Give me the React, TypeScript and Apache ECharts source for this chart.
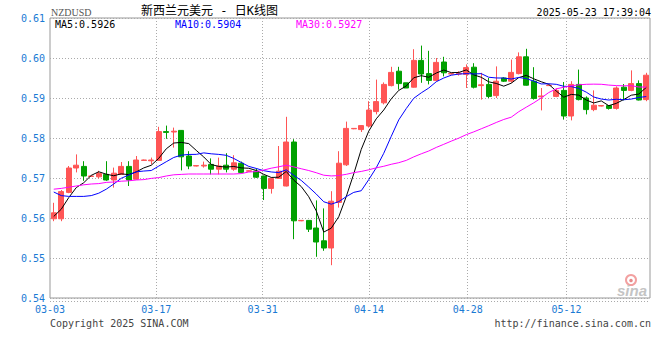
import React, { useEffect, useRef } from "react";
import * as echarts from "echarts";

// ---- data ----
const DATES = [
  "03-03","03-04","03-05","03-06","03-07","03-08","03-09","03-10","03-11","03-12",
  "03-13","03-14","03-15","03-16","03-17","03-18","03-19","03-20","03-21","03-22",
  "03-23","03-24","03-25","03-26","03-27","03-28","03-29","03-30","03-31","04-01",
  "04-02","04-03","04-04","04-05","04-06","04-07","04-08","04-09","04-10","04-11",
  "04-12","04-13","04-14","04-15","04-16","04-17","04-18","04-20","04-21","04-22",
  "04-23","04-24","04-25","04-26","04-27","04-28","04-29","04-30","05-01","05-02",
  "05-03","05-05","05-06","05-07","05-08","05-09","05-10","05-11","05-12","05-13",
  "05-14","05-15","05-16","05-17","05-18","05-19","05-20","05-21","05-22","05-23"
];
const OPEN = [
  0.5598,0.5598,0.5664,0.5725,0.5729,0.5704,0.5703,0.5709,0.5695,0.5709,
  0.5729,0.5697,0.5744,0.5743,0.5744,0.5816,0.5815,0.5819,0.5755,0.5730,
  0.5730,0.5734,0.5722,0.5732,0.5722,0.5737,0.5717,0.5717,0.5705,0.5674,
  0.5699,0.5680,0.5790,0.5593,0.5594,0.5575,0.5543,0.5525,0.5639,0.5733,
  0.5823,0.5821,0.5830,0.5866,0.5888,0.5931,0.5967,0.5938,0.5927,0.5994,
  0.5961,0.5944,0.5990,0.5960,0.5960,0.5959,0.5977,0.5931,0.5934,0.5906,
  0.5950,0.5942,0.5961,0.6003,0.5942,0.5903,0.5931,0.5904,0.5919,0.5855,
  0.5934,0.5900,0.5871,0.5880,0.5881,0.5874,0.5927,0.5919,0.5936,0.5896
];
const CLOSE = [
  0.5613,0.5666,0.5725,0.5732,0.5705,0.5705,0.5711,0.5695,0.5712,0.5729,
  0.5695,0.5745,0.5745,0.5745,0.5816,0.5814,0.5817,0.5753,0.5730,0.5731,
  0.5732,0.5722,0.5730,0.5722,0.5738,0.5714,0.5718,0.5702,0.5674,0.5699,
  0.5717,0.5790,0.5593,0.5594,0.5572,0.5540,0.5525,0.5642,0.5737,0.5824,
  0.5824,0.5831,0.5870,0.5891,0.5934,0.5964,0.5936,0.5925,0.5994,0.5960,
  0.5944,0.5989,0.5963,0.5961,0.5962,0.5976,0.5927,0.5933,0.5904,0.5942,
  0.5942,0.5964,0.6003,0.5932,0.5899,0.5905,0.5932,0.5919,0.5855,0.5934,
  0.5896,0.5871,0.5882,0.5881,0.5874,0.5925,0.5919,0.5936,0.5895,0.5957
];
const LOW = [
  0.5592,0.5592,0.5662,0.5714,0.5693,0.5703,0.5699,0.5693,0.5676,0.5708,
  0.5680,0.5696,0.5743,0.5734,0.5743,0.5798,0.5776,0.5719,0.5722,0.5729,
  0.5726,0.5709,0.5709,0.5714,0.5718,0.5712,0.5716,0.5700,0.5645,0.5661,
  0.5698,0.5679,0.5547,0.5592,0.5565,0.5503,0.5518,0.5482,0.5626,0.5730,
  0.5822,0.5815,0.5826,0.5859,0.5884,0.5929,0.5921,0.5925,0.5926,0.5938,
  0.5934,0.5942,0.5954,0.5959,0.5956,0.5925,0.5924,0.5896,0.5900,0.5900,
  0.5940,0.5938,0.5959,0.5931,0.5896,0.5869,0.5930,0.5902,0.5846,0.5844,
  0.5894,0.5859,0.5867,0.5879,0.5871,0.5871,0.5894,0.5917,0.5894,0.5892
];
const HIGH = [
  0.5638,0.5670,0.5730,0.5759,0.5742,0.5706,0.5718,0.5742,0.5726,0.5740,
  0.5742,0.5755,0.5746,0.5751,0.5828,0.5831,0.5826,0.5820,0.5767,0.5732,
  0.5741,0.5749,0.5751,0.5762,0.5757,0.5741,0.5719,0.5724,0.5706,0.5701,
  0.5780,0.5853,0.5797,0.5595,0.5595,0.5644,0.5624,0.5667,0.5767,0.5841,
  0.5825,0.5832,0.5892,0.5946,0.5939,0.5978,0.5978,0.5938,0.6022,0.6031,
  0.6018,0.6000,0.6003,0.5962,0.5967,0.5984,0.5987,0.5963,0.5950,0.5979,
  0.5952,0.5996,0.6014,0.6023,0.5977,0.5925,0.5933,0.5924,0.5940,0.5942,
  0.5971,0.5904,0.5919,0.5882,0.5882,0.5929,0.5935,0.5969,0.5944,0.5963
];
// moving-average values at the start of the window (they depend on earlier, unseen days)
const MA5_HEAD = [0.5604, 0.5622, 0.5651, 0.5676];
const MA10_HEAD = [0.5665, 0.5656, 0.5654, 0.5654, 0.5654, 0.5656, 0.5662, 0.5672, 0.5685];
const MA30_HEAD = [
  0.5672,0.5674,0.5677,0.5680,0.5683,0.5685,0.5686,0.5689,0.5690,0.5692,
  0.5693,0.5695,0.5696,0.5699,0.5701,0.5705,0.5708,0.5709,0.5710,0.5710,
  0.5710,0.5710,0.5710,0.5710,0.5710,0.5711,0.5715,0.5716,0.5720
];
const LABEL_DATES = ["03-03", "03-17", "03-31", "04-14", "04-28", "05-12"];
const Y_MIN = 0.54;
const Y_MAX = 0.61;
const Y_STEP = 0.01;

const MONO = "'DejaVu Sans Mono', 'Liberation Mono', monospace";
const BLUE = "#1a7ad4";
const UP = "#ff5555";
const DOWN = "#00a000";

function movingAverage(n: number, head: number[]): number[] {
  return CLOSE.map((_, i) => {
    if (i < n - 1) return head[i];
    let s = 0;
    for (let k = i - n + 1; k <= i; k++) s += CLOSE[k];
    return +(s / n).toFixed(6);
  });
}

export default function App() {
  const ref = useRef<HTMLDivElement>(null);

  useEffect(() => {
    if (!ref.current) return;
    const chart = echarts.init(ref.current, undefined, { renderer: "svg" });
    const ma5 = movingAverage(5, MA5_HEAD);
    const ma10 = movingAverage(10, MA10_HEAD);
    const ma30 = movingAverage(30, MA30_HEAD);
    const last = DATES.length - 1;
    const kData = DATES.map((_, i) => [OPEN[i], CLOSE[i], LOW[i], HIGH[i]]);
    const isLabel = (i: number) => LABEL_DATES.indexOf(DATES[i]) >= 0;

    const txt = (x: number, y: number, text: string, fill: string, font: string, align = "left") => ({
      type: "text",
      x,
      y,
      silent: true,
      style: {
        text,
        fill,
        font,
        textAlign: align,
        textVerticalAlign: "middle",
        align,
        verticalAlign: "middle",
      },
    });

    const option: any = {
      animation: false,
      backgroundColor: "#ffffff",
      grid: {
        left: 50,
        right: 10,
        top: 18,
        bottom: 62,
        show: true,
        borderColor: "#999999",
        borderWidth: 1,
        backgroundColor: "transparent",
      },
      xAxis: [
        {
          type: "category",
          data: DATES,
          boundaryGap: true,
          show: false,
        },
        {
          type: "category",
          data: DATES,
          boundaryGap: false,
          position: "bottom",
          axisLine: { show: false },
          axisTick: { show: false },
          axisLabel: {
            interval: (i: number) => isLabel(i),
            color: BLUE,
            fontFamily: MONO,
            fontSize: 10,
            margin: 6,
          },
          splitLine: {
            show: true,
            interval: (i: number) => isLabel(i) && i > 0,
            lineStyle: { color: "#aaaaaa", type: [1, 2], width: 1 },
          },
        },
      ],
      yAxis: {
        type: "value",
        min: Y_MIN,
        max: Y_MAX,
        interval: Y_STEP,
        axisLine: { show: false },
        axisTick: { show: false },
        axisLabel: {
          color: BLUE,
          fontFamily: MONO,
          fontSize: 10,
          margin: 5,
          formatter: (v: number) => v.toFixed(2),
        },
        splitLine: {
          show: true,
          lineStyle: { color: "#aaaaaa", type: [1, 2], width: 1 },
        },
      },
      series: [
        {
          type: "candlestick",
          xAxisIndex: 0,
          data: kData,
          barWidth: 5.5,
          itemStyle: {
            color: UP,
            color0: DOWN,
            borderColor: UP,
            borderColor0: DOWN,
            borderWidth: 1,
          },
        },
        {
          type: "line",
          xAxisIndex: 0,
          data: ma5,
          symbol: "none",
          lineStyle: { color: "#000000", width: 1 },
          itemStyle: { color: "#000000" },
          silent: true,
        },
        {
          type: "line",
          xAxisIndex: 0,
          data: ma10,
          symbol: "none",
          lineStyle: { color: "#0000ff", width: 1 },
          itemStyle: { color: "#0000ff" },
          silent: true,
        },
        {
          type: "line",
          xAxisIndex: 0,
          data: ma30,
          symbol: "none",
          lineStyle: { color: "#ff00ff", width: 1 },
          itemStyle: { color: "#ff00ff" },
          silent: true,
        },
      ],
      graphic: [
        txt(51, 12, "NZDUSD", "#555555", "10px 'Liberation Serif', serif"),
        txt(141, 11, "新西兰元美元 - 日K线图", "#000000", `12px ${MONO}, 'Noto Sans CJK SC'`),
        txt(651, 12, "2025-05-23 17:39:04", "#000000", `10px ${MONO}`, "right"),
        txt(55, 24, "MA5:" + ma5[last].toFixed(4), "#000000", `10px ${MONO}`),
        txt(175, 24, "MA10:" + ma10[last].toFixed(4), "#0000ff", `10px ${MONO}`),
        txt(296, 24, "MA30:" + ma30[last].toFixed(4), "#ff00ff", `10px ${MONO}`),
        {
          type: "line",
          silent: true,
          shape: { x1: 50, y1: 301.5, x2: 650, y2: 301.5 },
          style: { stroke: "#aaaaaa", lineWidth: 1, lineDash: [1, 2] },
        },
        txt(50, 323, "Copyright 2025 SINA.COM", "#444444", `10px ${MONO}`),
        txt(651, 323, "http://finance.sina.com.cn", "#444444", `10px ${MONO}`, "right"),
        {
          type: "circle",
          silent: true,
          shape: { cx: 631, cy: 280, r: 5 },
          style: { fill: "none", stroke: "#f2a0a0", lineWidth: 2 },
        },
        {
          type: "circle",
          silent: true,
          shape: { cx: 631, cy: 280.5, r: 1.8 },
          style: { fill: "#e88a8a" },
        },
        txt(632, 290, "sina", "#c4c4c4", "italic bold 15px 'Liberation Sans', sans-serif", "center"),
      ],
    };

    chart.setOption(option);
    return () => chart.dispose();
  }, []);

  return (
    <div
      ref={ref}
      style={{ position: "fixed", left: 0, top: 0, width: 660, height: 360, background: "#fff" }}
    />
  );
}
